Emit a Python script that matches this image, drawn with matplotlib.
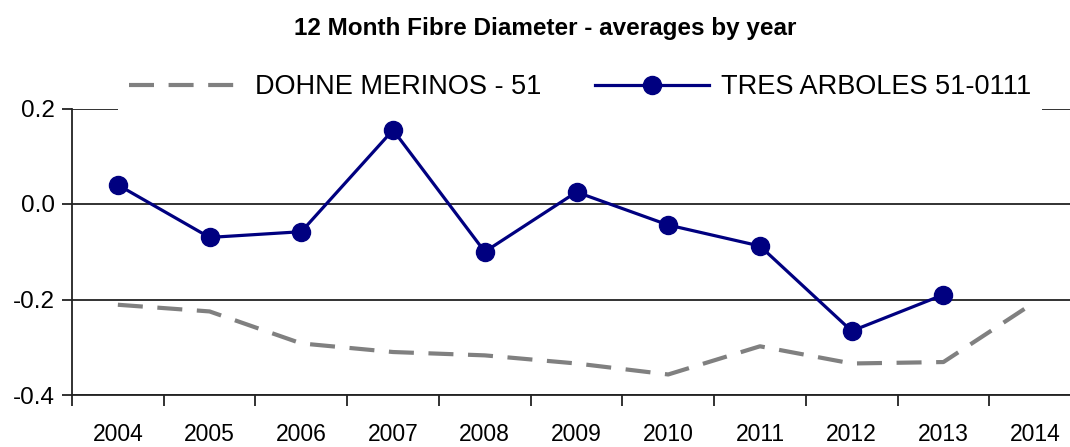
import matplotlib
matplotlib.use("Agg")
import matplotlib.pyplot as plt
from matplotlib.lines import Line2D

plt.rcParams['font.family'] = ['Liberation Sans', 'DejaVu Sans']

years = ["2004", "2005", "2006", "2007", "2008", "2009", "2010", "2011", "2012", "2013", "2014"]
dohne = [-0.211, -0.225, -0.292, -0.310, -0.317, -0.334, -0.357, -0.298, -0.334, -0.331, -0.205]
tres = [0.040, -0.070, -0.058, 0.155, -0.100, 0.025, -0.044, -0.088, -0.266, -0.190]
yticks = [-0.4, -0.2, 0.0, 0.2]
ytick_labels = ["-0.4", "-0.2", "0.0", "0.2"]

W, H = 1070, 447
fig = plt.figure(figsize=(W / 100, H / 100), dpi=100)
left, right, top, bottom = 72, 1081, 108.5, 395
ax = fig.add_axes([left / W, 1 - bottom / H, (right - left) / W, (bottom - top) / H])

x = list(range(len(years)))
ax.plot(x, dohne, color='#808080', lw=3.0, ls=(0, (6, 3.5)), zorder=3,
        solid_capstyle='butt', dash_capstyle='butt')
ax.plot(x[:len(tres)], tres, color='#000080', lw=2.3, marker='o', markersize=13, zorder=4)

ax.set_xlim(-0.5, len(years) - 0.5)
ax.set_ylim(-0.4, 0.2)

for v in yticks:
    ax.axhline(v, color='#222222', lw=1.3, zorder=1)

for s in ['top', 'right']:
    ax.spines[s].set_visible(False)
ax.spines['left'].set_color('#222222')
ax.spines['left'].set_linewidth(1.3)
ax.spines['bottom'].set_color('#222222')
ax.spines['bottom'].set_linewidth(1.3)

ax.set_yticks(yticks)
ax.set_yticklabels(ytick_labels, fontsize=17.5)
ax.tick_params(axis='y', length=7, width=1.3, color='#222222', pad=5)

ax.set_xticks(x)
ax.set_xticklabels(years, fontsize=16.5)
ax.tick_params(axis='x', which='major', length=0, pad=20)
ax.set_xticks([i + 0.5 for i in x[:-1]] + [-0.5], minor=True)
ax.tick_params(axis='x', which='minor', length=8, width=1.3, color='#222222')

fig.text(545 / W, 1 - 28 / H, "12 Month Fibre Diameter - averages by year",
         ha='center', va='center', fontsize=17.5, fontweight='bold')

handles = [
    Line2D([], [], color='#808080', lw=3.0, ls=(0, (6, 3.5))),
    Line2D([], [], color='#000080', lw=2.3, marker='o', markersize=13),
]
leg = fig.legend(handles, ["DOHNE MERINOS - 51", "TRES ARBOLES 51-0111"],
                 loc='center', bbox_to_anchor=(580 / W, 1 - 87 / H), ncol=2,
                 fontsize=19.5, frameon=True, framealpha=1, facecolor='white',
                 edgecolor='none', handlelength=4.2, handletextpad=0.45,
                 columnspacing=2.0, borderpad=0.4, fancybox=False)

fig.savefig("out.png", dpi=100)
